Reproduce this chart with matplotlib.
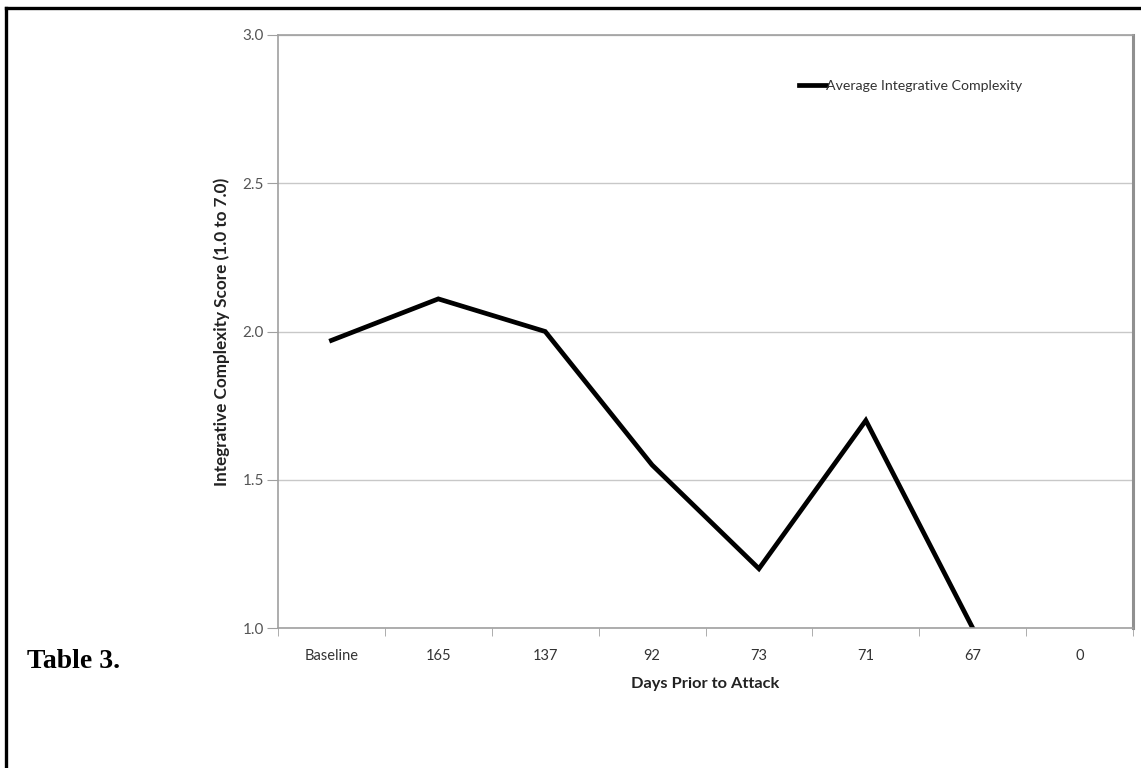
import matplotlib.pyplot as plt
import numpy as np
from matplotlib.lines import Line2D

# data
days = ["Baseline", "165", "137", "92", "73", "71", "67", "0"]
complexity = [1.97, 2.11, 2.00, 1.55, 1.20, 1.70, 1.00, np.nan]
series_name = "Average Integrative Complexity"

fig = plt.figure(figsize=(11.41, 7.68), dpi=100)
ax = fig.add_axes([278 / 1141, 1 - 628 / 768, (1133 - 278) / 1141, (628 - 35) / 768])

x = np.arange(len(days))
ax.plot(x, complexity, color="black", linewidth=3.4, label=series_name,
        solid_joinstyle="miter", clip_on=True)

ax.set_xlim(-0.5, len(days) - 0.5)
ax.set_ylim(1.0, 3.0)
ax.set_yticks([1.0, 1.5, 2.0, 2.5, 3.0])
ax.set_yticklabels(["1.0", "1.5", "2.0", "2.5", "3.0"])
ax.yaxis.grid(True, color="#c8c8c8", linewidth=1.0)
ax.set_axisbelow(True)

# labels centred in categories, tick marks between them (Excel style)
ax.set_xticks(x)
ax.set_xticklabels(days)
ax.set_xticks(np.arange(len(days) + 1) - 0.5, minor=True)
ax.tick_params(axis="x", which="major", length=0, pad=15, labelsize=10.5,
               labelcolor="#333333")
ax.tick_params(axis="x", which="minor", length=6, color="#a0a0a0", direction="out")
ax.tick_params(axis="y", length=8, color="#a0a0a0", labelsize=11,
               labelcolor="#555555", pad=2)
for lab in ax.get_xticklabels() + ax.get_yticklabels():
    lab.set_family("Lato")

for side in ["left", "bottom", "top"]:
    ax.spines[side].set_color("#a0a0a0")
    ax.spines[side].set_linewidth(1.2)
ax.spines["right"].set_color("#909090")
ax.spines["right"].set_linewidth(2.2)

ax.set_xlabel("Days Prior to Attack", fontsize=11.8, fontweight="bold",
              family="Lato", labelpad=10, color="#222222")
ax.set_ylabel("Integrative Complexity Score (1.0 to 7.0)", fontsize=12.3,
              fontweight="bold", family="Lato", labelpad=9, color="#222222")

leg = ax.legend(loc="upper left", bbox_to_anchor=(0.595, 0.945), frameon=False,
                handlelength=1.9, handletextpad=0.0, prop={"family": "Lato", "size": 10.2})
for t in leg.get_texts():
    t.set_color("#333333")

fig.text(27 / 1141, 1 - 662 / 768, "Table 3.", family="Liberation Serif",
         fontweight="bold", fontsize=20, va="center", ha="left")

# outer frame of the page clip
fig.add_artist(Line2D([6 / 1141, 6 / 1141], [0, 1 - 8 / 768],
                      transform=fig.transFigure, color="black", linewidth=2.4))
fig.add_artist(Line2D([6 / 1141, 1], [1 - 8 / 768, 1 - 8 / 768],
                      transform=fig.transFigure, color="black", linewidth=2.4))

fig.savefig("out.png", dpi=100)
